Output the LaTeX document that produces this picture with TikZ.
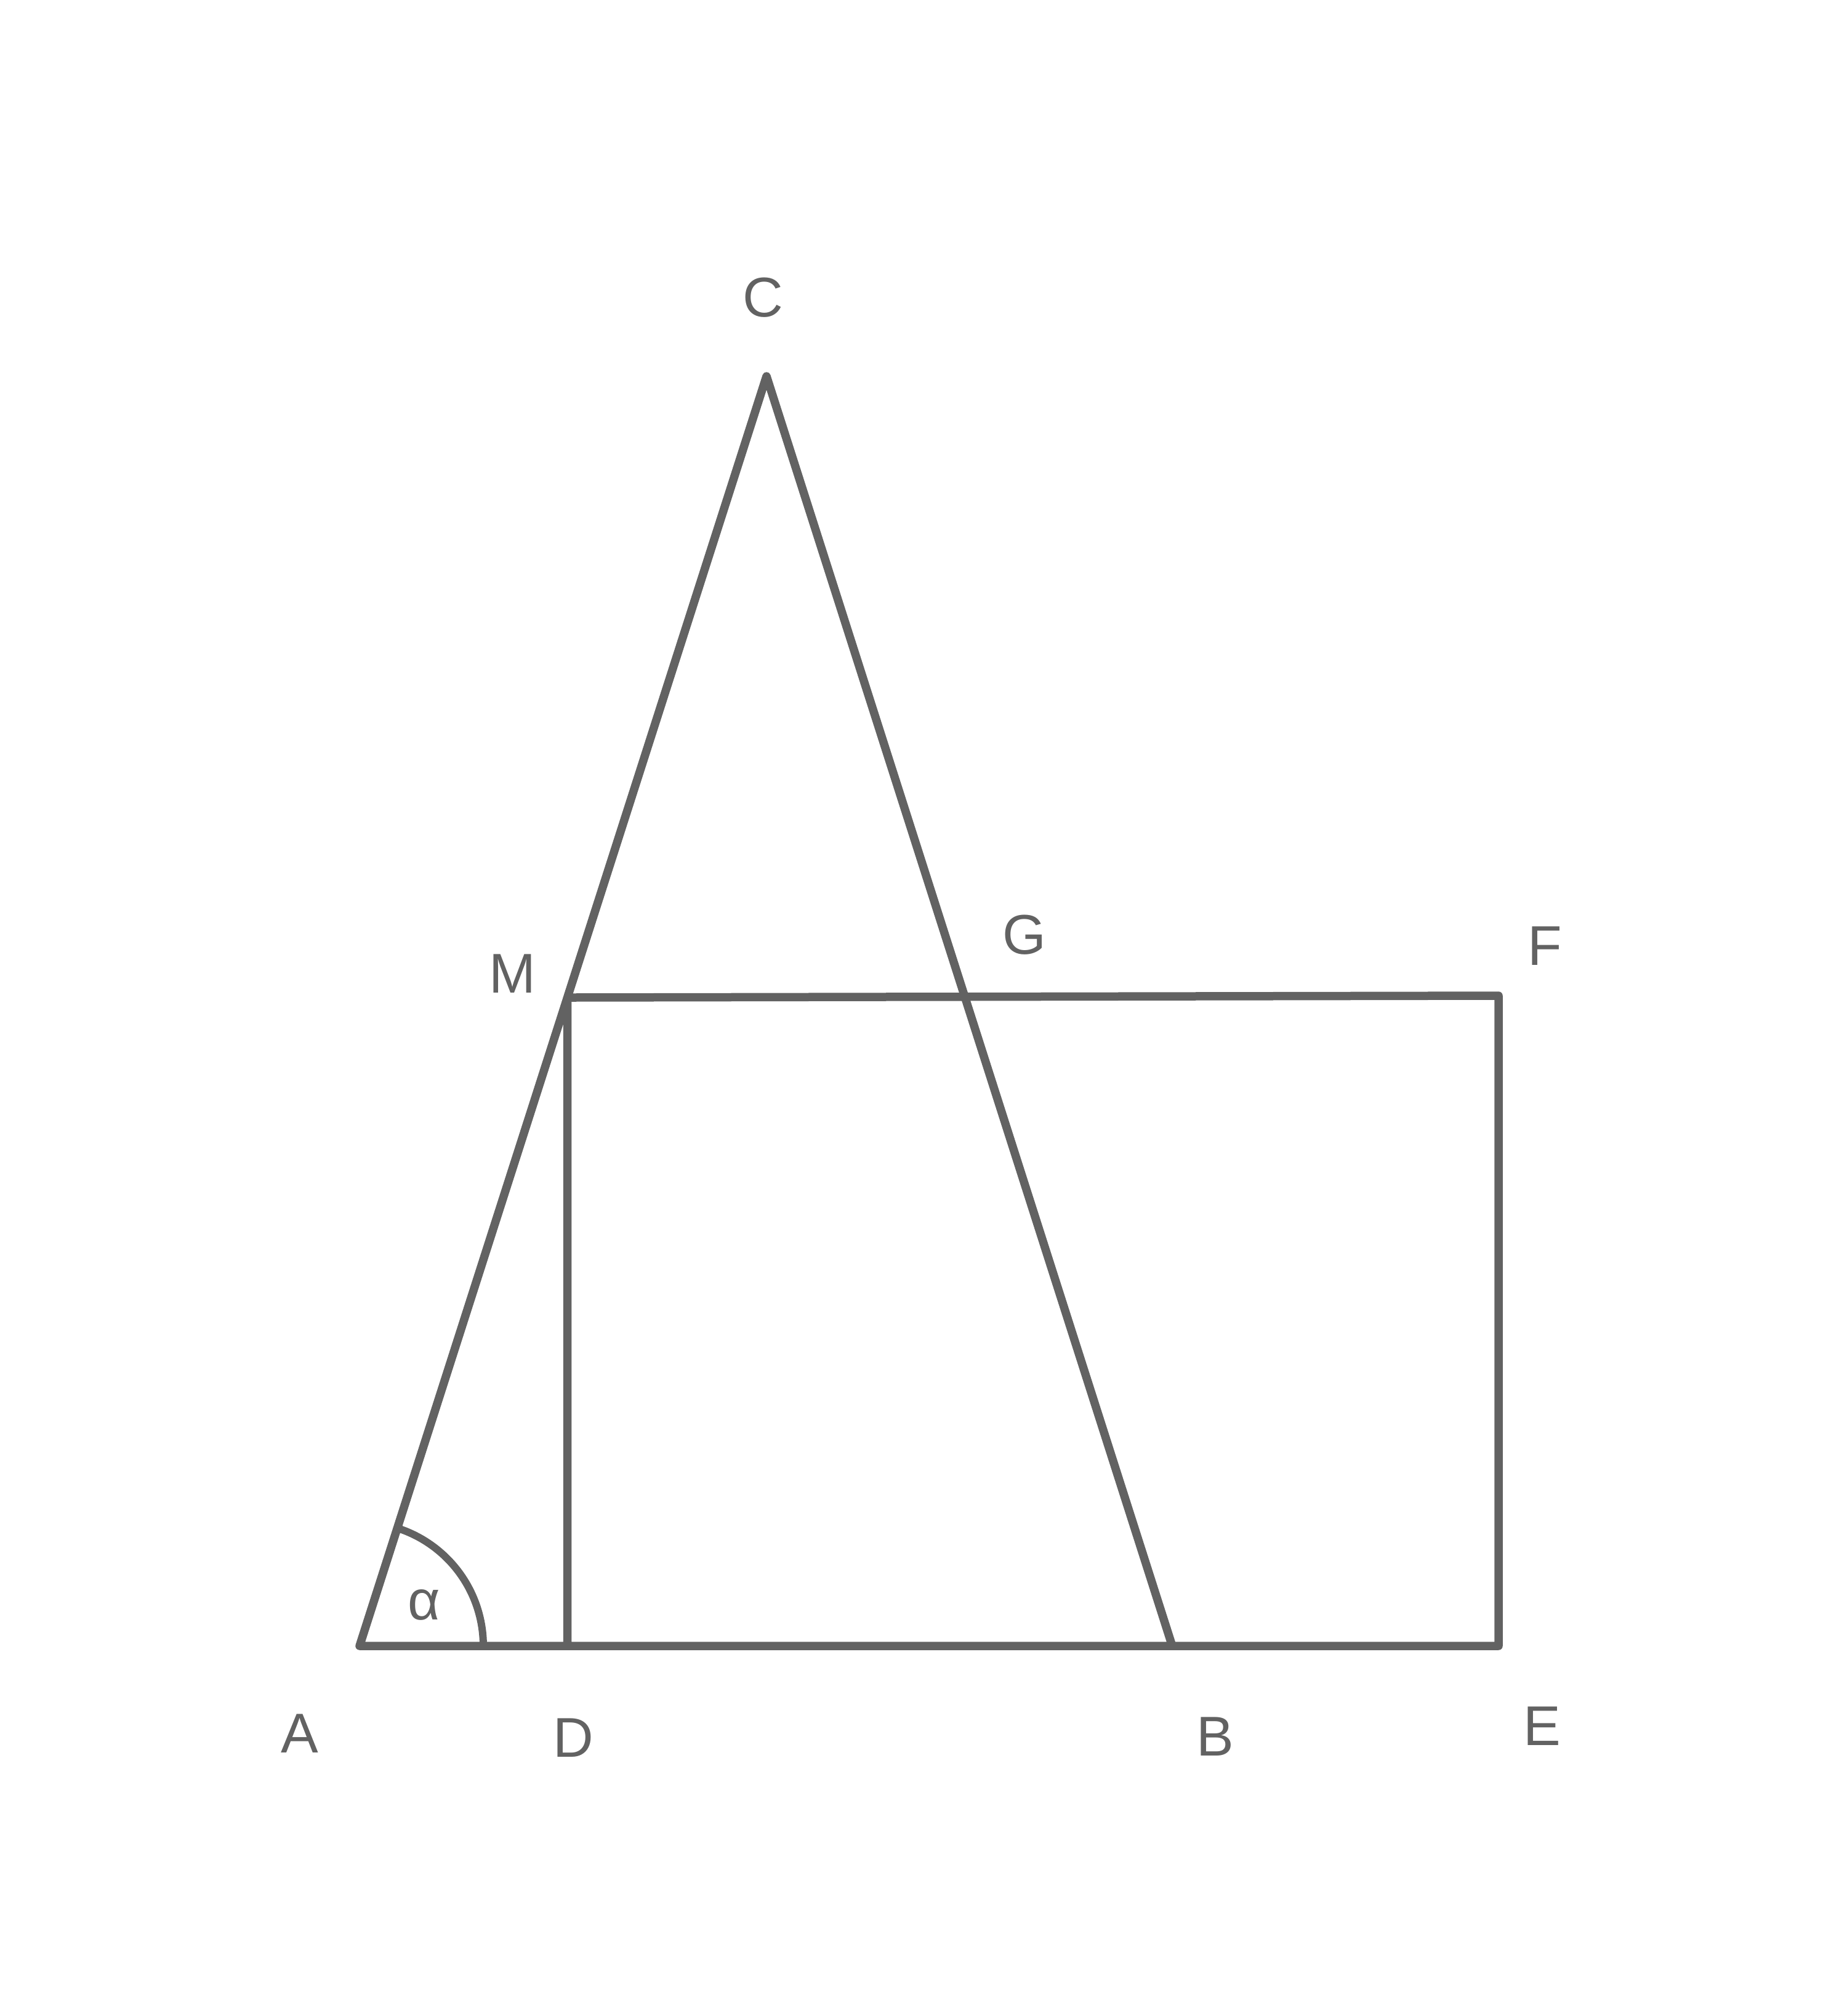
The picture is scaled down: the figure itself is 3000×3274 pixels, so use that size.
\documentclass[tikz,border=0pt]{standalone}
\usepackage{fontspec}
\setmainfont{Liberation Sans}
\usetikzlibrary{calc,intersections}
\definecolor{ink}{HTML}{626262}
\begin{document}
\begin{tikzpicture}[x=1pt,y=-1pt,
  edge/.style={draw=ink,line width=13.5pt,line join=round,line cap=round},
  lbl/.style={text=ink,font=\fontsize{91}{100}\selectfont,inner sep=0pt,anchor=base}]
\useasboundingbox (0,0) rectangle (3000,3274);
\coordinate (A) at (584,2673);
\coordinate (C) at (1245,611);
\coordinate (B) at (1904,2673);
\coordinate (E) at (2434,2673);
\coordinate (F) at (2434,1617);
\path[name path=ac] (A) -- (C);
\path[name path=cb] (C) -- (B);
\path[name path=top] (900,1620) -- (F);
\path[name intersections={of=ac and top,by=M}];
\path[name intersections={of=cb and top,by=G}];
\coordinate (D) at (M |- A);
\draw[edge] (D) -- (M) -- (F) -- (E) -- (A) -- (C) -- (B);
\draw[draw=ink,line width=12pt] ($(A)+(201,0)$) arc[start angle=0,end angle=-72.23,radius=201];
\node[lbl] (lC) at (1239,514) {C};
\node[lbl] (lM) at (832,1612) {M};
\node[lbl] (lG) at (1664,1549) {G};
\node[lbl] (lF) at (2509,1567) {F};
\node[lbl] (lA) at (487,2846) {A};
\node[lbl] (lD) at (931,2853) {D};
\node[lbl] (lB) at (1974,2851) {B};
\node[lbl] (lE) at (2505,2834) {E};
\node[lbl] (lal) at (689,2630) {α};
\end{tikzpicture}
\end{document}
